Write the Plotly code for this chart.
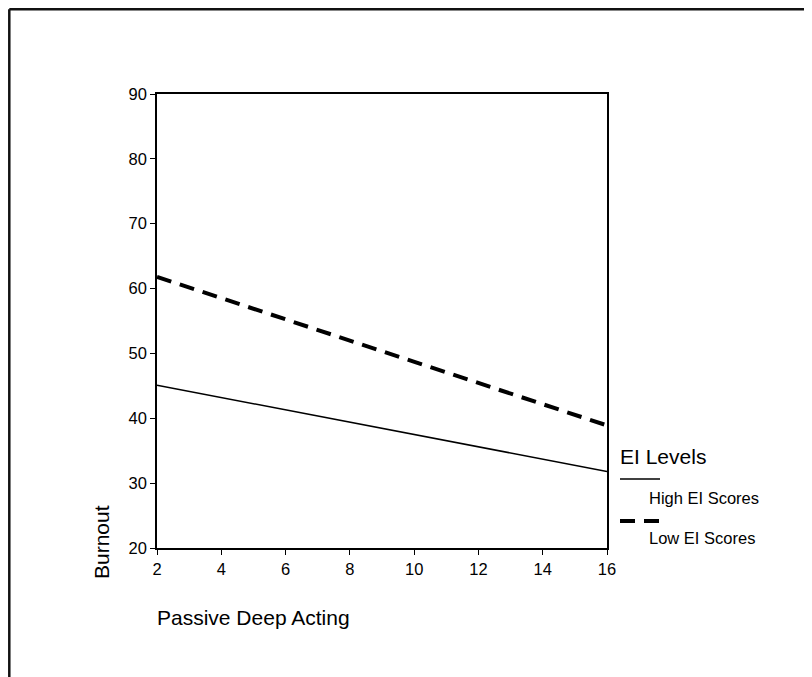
import plotly.graph_objects as go

# Data
x_vals = [2, 16]
high_ei = [45.1, 31.8]
low_ei = [61.8, 38.9]
x_ticks = [2, 4, 6, 8, 10, 12, 14, 16]
y_ticks = [20, 30, 40, 50, 60, 70, 80, 90]
series_names = ["High EI Scores", "Low EI Scores"]
legend_title = "EI Levels"
x_title = "Passive Deep Acting"
y_title = "Burnout"

FONT = "Arial, Liberation Sans, Helvetica, sans-serif"

OFF = 8  # page body margin
W, H = 812 - OFF, 677 - OFF
L, R, T, B = 157 - OFF, 205, 94 - OFF, 129
PW, PH = W - L - R, H - T - B


def px_x(p):
    # p: page pixel x
    return (p - OFF - L) / PW


def px_y(p):
    # p: page pixel y
    return (H - B - (p - OFF)) / PH


fig = go.Figure()
fig.add_trace(go.Scatter(x=x_vals, y=high_ei, mode="lines", name=series_names[0],
                         line=dict(color="black", width=1.5), showlegend=False))
fig.add_trace(go.Scatter(x=x_vals, y=low_ei, mode="lines", name=series_names[1],
                         line=dict(color="black", width=4, dash="15px,9px"), showlegend=False))

axis_common = dict(showgrid=False, zeroline=False, showline=True, linecolor="black",
                   linewidth=1.5, mirror=True, ticks="outside", ticklen=5,
                   tickwidth=1.2, tickcolor="black",
                   tickfont=dict(family=FONT, size=16.5, color="black"))

fig.update_xaxes(range=[2, 16], tickvals=x_ticks, **axis_common)
fig.update_yaxes(range=[20, 90], tickvals=y_ticks, **axis_common)

FRAME_X = OFF + 1.3   # closest reachable position to the reference frame
FRAME_Y = OFF + 1.3

shapes = [
    # outer frame (left and top visible)
    dict(type="line", xref="paper", yref="paper", x0=px_x(FRAME_X), x1=px_x(FRAME_X),
         y0=px_y(FRAME_Y), y1=px_y(720), line=dict(color="#111", width=2.5)),
    dict(type="line", xref="paper", yref="paper", x0=px_x(FRAME_X), x1=px_x(850),
         y0=px_y(FRAME_Y), y1=px_y(FRAME_Y), line=dict(color="#111", width=2.5)),
    # legend samples
    dict(type="line", xref="paper", yref="paper", x0=px_x(620), x1=px_x(660),
         y0=px_y(479), y1=px_y(479), line=dict(color="black", width=1.5)),
    dict(type="line", xref="paper", yref="paper", x0=px_x(620), x1=px_x(660),
         y0=px_y(521), y1=px_y(521), line=dict(color="black", width=4, dash="15px,9px")),
]

annotations = [
    dict(text=y_title, xref="paper", yref="paper", x=px_x(101), y=px_y(542),
         textangle=-90, showarrow=False, xanchor="center", yanchor="middle",
         font=dict(family=FONT, size=21, color="black")),
    dict(text=x_title, xref="paper", yref="paper", x=px_x(155), y=px_y(617),
         showarrow=False, xanchor="left", yanchor="middle",
         font=dict(family=FONT, size=21, color="black")),
    dict(text=legend_title, xref="paper", yref="paper", x=px_x(618), y=px_y(456),
         showarrow=False, xanchor="left", yanchor="middle",
         font=dict(family=FONT, size=21, color="black")),
    dict(text=series_names[0], xref="paper", yref="paper", x=px_x(647), y=px_y(498),
         showarrow=False, xanchor="left", yanchor="middle",
         font=dict(family=FONT, size=16.5, color="black")),
    dict(text=series_names[1], xref="paper", yref="paper", x=px_x(647), y=px_y(538),
         showarrow=False, xanchor="left", yanchor="middle",
         font=dict(family=FONT, size=16.5, color="black")),
]

fig.update_layout(width=W, height=H, autosize=False,
                  margin=dict(l=L, r=R, t=T, b=B, pad=0),
                  paper_bgcolor="white", plot_bgcolor="white",
                  showlegend=False, shapes=shapes, annotations=annotations,
                  font=dict(family=FONT, color="black"))

fig.write_html("out.html")
